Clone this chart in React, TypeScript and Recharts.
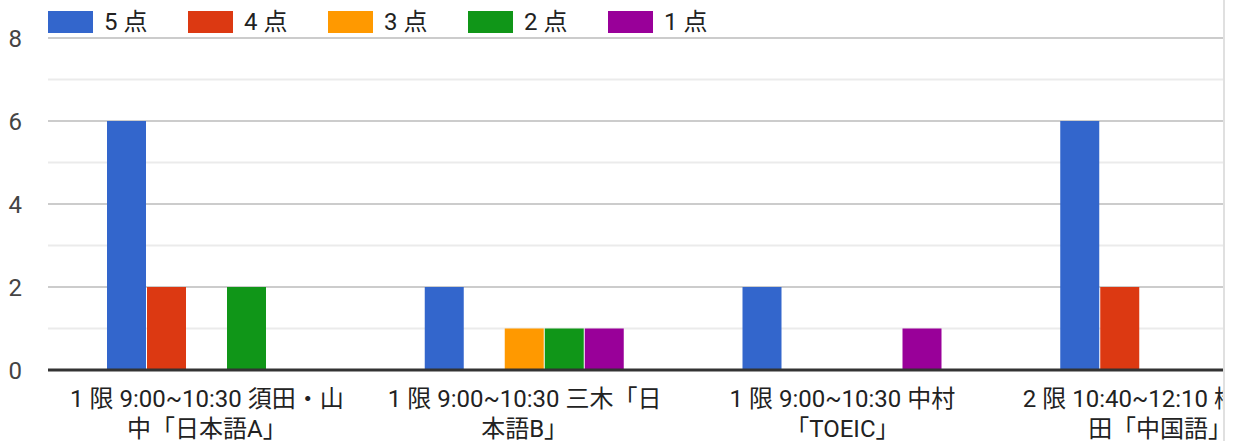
import React from "react";
import { BarChart, Bar, XAxis, YAxis, CartesianGrid, Legend } from "recharts";

const categoryLines: string[][] = [
  ["1 限 9:00~10:30 須田・山", "中「日本語A」"],
  ["1 限 9:00~10:30 三木「日", "本語B」"],
  ["1 限 9:00~10:30 中村", "「TOEIC」"],
  ["2 限 10:40~12:10 橋", "田「中国語」"],
];
const categories = categoryLines.map((l) => l.join(""));

const seriesNames = ["5 点", "4 点", "3 点", "2 点", "1 点"];
const seriesColors = ["#3366cc", "#dc3912", "#ff9900", "#109618", "#990099"];
const score5 = [6, 2, 2, 6];
const score4 = [2, 0, 0, 2];
const score3 = [0, 1, 0, 0];
const score2 = [2, 1, 0, 0];
const score1 = [0, 1, 1, 0];
const seriesValues = [score5, score4, score3, score2, score1];

const yTicks = [0, 2, 4, 6, 8];
const majorGrid = [2, 4, 6, 8];
const minorGrid = [1, 3, 5, 7];

const data = categories.map((name, i) => {
  const row: Record<string, string | number> = { name };
  seriesNames.forEach((s, j) => {
    row[s] = seriesValues[j][i];
  });
  return row;
});

const FONT = "Roboto, 'Noto Sans CJK JP', sans-serif";
const FONT_SIZE = 24;
const LABEL_RIGHT_LIMIT = 1238;

let ctx: CanvasRenderingContext2D | null = null;
function measure(text: string): number {
  if (!ctx) {
    const c = document.createElement("canvas");
    ctx = c.getContext("2d");
  }
  if (!ctx) return text.length * FONT_SIZE * 0.6;
  ctx.font = `${FONT_SIZE}px ${FONT}`;
  return ctx.measureText(text).width;
}

const XTick = (props: any) => {
  const { x, y, index } = props;
  const lines = categoryLines[index] || [];
  return (
    <g>
      {lines.map((line, i) => {
        const w = measure(line);
        let cx = x;
        if (cx + w / 2 > LABEL_RIGHT_LIMIT) cx = LABEL_RIGHT_LIMIT - w / 2;
        return (
          <text
            key={i}
            x={cx}
            y={y + 37 + i * 30}
            textAnchor="middle"
            fontSize={FONT_SIZE}
            fontFamily={FONT}
            fill="#222"
          >
            {line}
          </text>
        );
      })}
    </g>
  );
};

const YTick = (props: any) => {
  const { y, payload } = props;
  return (
    <text
      x={22}
      y={y}
      dy="0.36em"
      textAnchor="end"
      fontSize={FONT_SIZE}
      fontFamily={FONT}
      fill="#444"
    >
      {payload.value}
    </text>
  );
};

const LegendContent = () => (
  <div
    style={{
      height: 38,
      display: "flex",
      alignItems: "flex-start",
      paddingLeft: 48,
      boxSizing: "border-box",
      fontFamily: FONT,
    }}
  >
    {seriesNames.map((s, i) => (
      <div
        key={s}
        style={{ width: 140, display: "flex", alignItems: "center", marginTop: 11 }}
      >
        <div style={{ width: 45, height: 22, background: seriesColors[i] }} />
        <span style={{ marginLeft: 11, fontSize: FONT_SIZE, color: "#222", lineHeight: "22px" }}>
          {s}
        </span>
      </div>
    ))}
  </div>
);

export default function App() {
  return (
    <div
      style={{
        position: "absolute",
        left: 0,
        top: 0,
        width: 1223,
        height: 441,
        overflow: "hidden",
        borderRight: "2px solid #e0e0e0",
        background: "#fff",
      }}
    >
      <BarChart
        width={1330}
        height={441}
        data={data}
        margin={{ top: 0, right: 11, left: 0, bottom: 0 }}
        barSize={39}
        barGap={1}
      >
        <Legend
          verticalAlign="top"
          align="left"
          content={<LegendContent />}
          wrapperStyle={{ top: 0, left: 0, width: 1330 }}
        />
        <CartesianGrid
          vertical={false}
          horizontalValues={minorGrid}
          stroke="#ebebeb"
          strokeWidth={2}
        />
        <CartesianGrid
          vertical={false}
          horizontalValues={majorGrid}
          stroke="#cccccc"
          strokeWidth={2}
        />
        <XAxis
          dataKey="name"
          height={71}
          tickLine={false}
          tickSize={0}
          tickMargin={0}
          interval={0}
          axisLine={{ stroke: "#333", strokeWidth: 3 }}
          tick={<XTick />}
        />
        <YAxis
          width={48}
          domain={[0, 8]}
          ticks={yTicks}
          axisLine={false}
          tickLine={false}
          tick={<YTick />}
        />
        {seriesNames.map((s, i) => (
          <Bar key={s} dataKey={s} fill={seriesColors[i]} isAnimationActive={false} />
        ))}
      </BarChart>
    </div>
  );
}
